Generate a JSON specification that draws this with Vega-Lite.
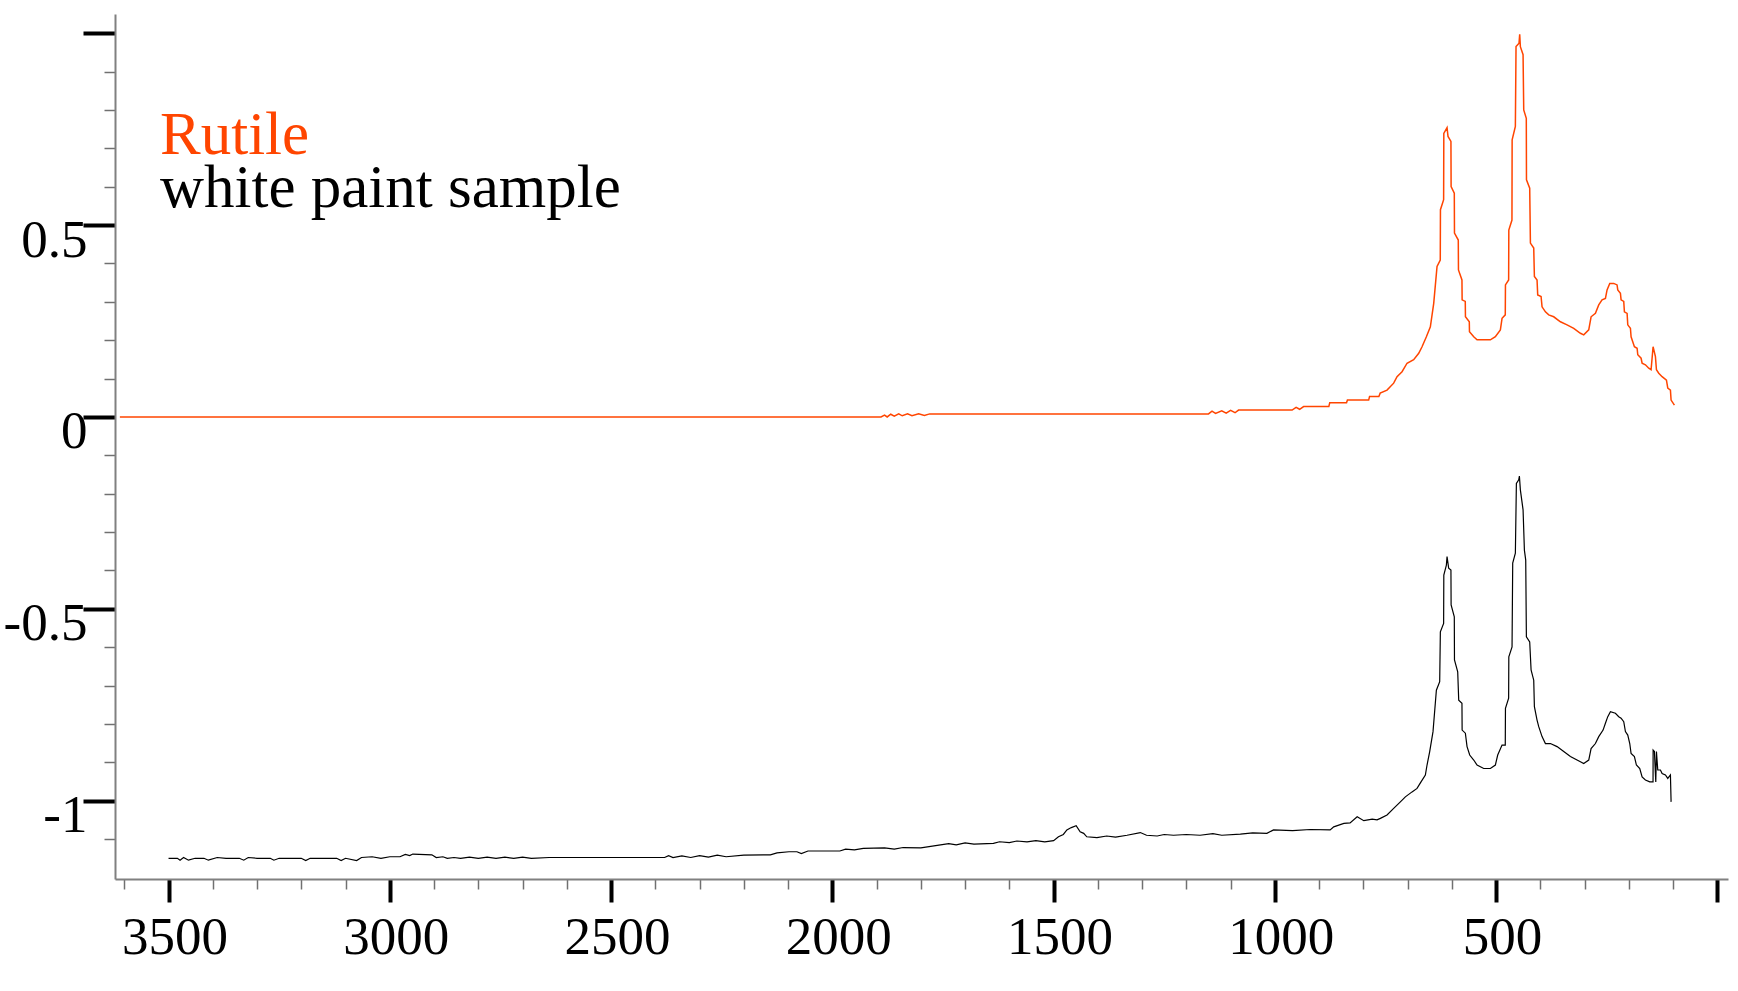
{
  "$schema": "https://vega.github.io/schema/vega-lite/v6.json",
  "width": 1613,
  "height": 865,
  "autosize": "none",
  "padding": {"left": 115, "top": 14, "right": 10, "bottom": 112},
  "background": "white",
  "config": {
    "font": "Liberation Serif",
    "view": {"stroke": null},
    "axis": {"grid": false, "title": null, "labelColor": "black", "labelFont": "Liberation Serif", "labelOverlap": false, "labelFlush": false, "labelBound": false}
  },
  "datasets": {
    "spectra": [
      {"series": "Rutile", "wn": 3610, "val": 0},
      {"series": "Rutile", "wn": 1890, "val": 0},
      {"series": "Rutile", "wn": 1882, "val": 0.005},
      {"series": "Rutile", "wn": 1876, "val": 0.0},
      {"series": "Rutile", "wn": 1868, "val": 0.007},
      {"series": "Rutile", "wn": 1860, "val": 0.002},
      {"series": "Rutile", "wn": 1850, "val": 0.008},
      {"series": "Rutile", "wn": 1842, "val": 0.003},
      {"series": "Rutile", "wn": 1830, "val": 0.008},
      {"series": "Rutile", "wn": 1820, "val": 0.003},
      {"series": "Rutile", "wn": 1805, "val": 0.008},
      {"series": "Rutile", "wn": 1792, "val": 0.004},
      {"series": "Rutile", "wn": 1780, "val": 0.008},
      {"series": "Rutile", "wn": 1150, "val": 0.008},
      {"series": "Rutile", "wn": 1142, "val": 0.015},
      {"series": "Rutile", "wn": 1134, "val": 0.009},
      {"series": "Rutile", "wn": 1120, "val": 0.016},
      {"series": "Rutile", "wn": 1110, "val": 0.010},
      {"series": "Rutile", "wn": 1100, "val": 0.017},
      {"series": "Rutile", "wn": 1090, "val": 0.011},
      {"series": "Rutile", "wn": 1082, "val": 0.018},
      {"series": "Rutile", "wn": 961, "val": 0.018},
      {"series": "Rutile", "wn": 952, "val": 0.025},
      {"series": "Rutile", "wn": 944, "val": 0.020},
      {"series": "Rutile", "wn": 935, "val": 0.027},
      {"series": "Rutile", "wn": 878, "val": 0.027},
      {"series": "Rutile", "wn": 876, "val": 0.037},
      {"series": "Rutile", "wn": 838, "val": 0.037},
      {"series": "Rutile", "wn": 836, "val": 0.044},
      {"series": "Rutile", "wn": 788, "val": 0.044},
      {"series": "Rutile", "wn": 786, "val": 0.053},
      {"series": "Rutile", "wn": 765, "val": 0.053},
      {"series": "Rutile", "wn": 762, "val": 0.062},
      {"series": "Rutile", "wn": 746.5, "val": 0.070},
      {"series": "Rutile", "wn": 731.5, "val": 0.088},
      {"series": "Rutile", "wn": 723.9, "val": 0.105},
      {"series": "Rutile", "wn": 712.6, "val": 0.118},
      {"series": "Rutile", "wn": 701.3, "val": 0.140},
      {"series": "Rutile", "wn": 686.3, "val": 0.149},
      {"series": "Rutile", "wn": 674.9, "val": 0.166},
      {"series": "Rutile", "wn": 667.4, "val": 0.183},
      {"series": "Rutile", "wn": 657.6, "val": 0.209},
      {"series": "Rutile", "wn": 648.6, "val": 0.235},
      {"series": "Rutile", "wn": 641.0, "val": 0.296},
      {"series": "Rutile", "wn": 633.5, "val": 0.392},
      {"series": "Rutile", "wn": 626.2, "val": 0.409},
      {"series": "Rutile", "wn": 625.8, "val": 0.540},
      {"series": "Rutile", "wn": 618.6, "val": 0.566},
      {"series": "Rutile", "wn": 618.2, "val": 0.739},
      {"series": "Rutile", "wn": 610.9, "val": 0.754},
      {"series": "Rutile", "wn": 608.7, "val": 0.731},
      {"series": "Rutile", "wn": 602.1, "val": 0.718},
      {"series": "Rutile", "wn": 601.7, "val": 0.600},
      {"series": "Rutile", "wn": 594.5, "val": 0.583},
      {"series": "Rutile", "wn": 594.1, "val": 0.479},
      {"series": "Rutile", "wn": 585.5, "val": 0.461},
      {"series": "Rutile", "wn": 585.1, "val": 0.383},
      {"series": "Rutile", "wn": 577.2, "val": 0.357},
      {"series": "Rutile", "wn": 576.8, "val": 0.305},
      {"series": "Rutile", "wn": 569.7, "val": 0.301},
      {"series": "Rutile", "wn": 569.3, "val": 0.261},
      {"series": "Rutile", "wn": 560.6, "val": 0.248},
      {"series": "Rutile", "wn": 560.2, "val": 0.222},
      {"series": "Rutile", "wn": 550.6, "val": 0.209},
      {"series": "Rutile", "wn": 543.1, "val": 0.201},
      {"series": "Rutile", "wn": 513.0, "val": 0.201},
      {"series": "Rutile", "wn": 501.7, "val": 0.209},
      {"series": "Rutile", "wn": 490.4, "val": 0.227},
      {"series": "Rutile", "wn": 486.6, "val": 0.257},
      {"series": "Rutile", "wn": 479.3, "val": 0.266},
      {"series": "Rutile", "wn": 478.9, "val": 0.344},
      {"series": "Rutile", "wn": 471.7, "val": 0.357},
      {"series": "Rutile", "wn": 471.3, "val": 0.487},
      {"series": "Rutile", "wn": 464.2, "val": 0.513},
      {"series": "Rutile", "wn": 463.8, "val": 0.722},
      {"series": "Rutile", "wn": 456.5, "val": 0.757},
      {"series": "Rutile", "wn": 455.0, "val": 0.965},
      {"series": "Rutile", "wn": 448.2, "val": 0.974},
      {"series": "Rutile", "wn": 446.7, "val": 0.997},
      {"series": "Rutile", "wn": 445.2, "val": 0.965},
      {"series": "Rutile", "wn": 439.1, "val": 0.944},
      {"series": "Rutile", "wn": 437.6, "val": 0.800},
      {"series": "Rutile", "wn": 431.8, "val": 0.778},
      {"series": "Rutile", "wn": 431.4, "val": 0.618},
      {"series": "Rutile", "wn": 424.1, "val": 0.596},
      {"series": "Rutile", "wn": 422.5, "val": 0.453},
      {"series": "Rutile", "wn": 415.0, "val": 0.440},
      {"series": "Rutile", "wn": 413.5, "val": 0.366},
      {"series": "Rutile", "wn": 407.5, "val": 0.357},
      {"series": "Rutile", "wn": 406.0, "val": 0.318},
      {"series": "Rutile", "wn": 398.4, "val": 0.314},
      {"series": "Rutile", "wn": 396.2, "val": 0.287},
      {"series": "Rutile", "wn": 388.6, "val": 0.274},
      {"series": "Rutile", "wn": 381.1, "val": 0.266},
      {"series": "Rutile", "wn": 369.8, "val": 0.261},
      {"series": "Rutile", "wn": 354.7, "val": 0.248},
      {"series": "Rutile", "wn": 339.7, "val": 0.240},
      {"series": "Rutile", "wn": 324.6, "val": 0.231},
      {"series": "Rutile", "wn": 309.5, "val": 0.218},
      {"series": "Rutile", "wn": 302.0, "val": 0.214},
      {"series": "Rutile", "wn": 290.7, "val": 0.227},
      {"series": "Rutile", "wn": 285.4, "val": 0.261},
      {"series": "Rutile", "wn": 275.6, "val": 0.270},
      {"series": "Rutile", "wn": 268.1, "val": 0.292},
      {"series": "Rutile", "wn": 260.6, "val": 0.305},
      {"series": "Rutile", "wn": 253.0, "val": 0.309},
      {"series": "Rutile", "wn": 249.3, "val": 0.331},
      {"series": "Rutile", "wn": 243.2, "val": 0.348},
      {"series": "Rutile", "wn": 234.2, "val": 0.348},
      {"series": "Rutile", "wn": 226.7, "val": 0.344},
      {"series": "Rutile", "wn": 225.1, "val": 0.331},
      {"series": "Rutile", "wn": 219.1, "val": 0.322},
      {"series": "Rutile", "wn": 217.6, "val": 0.305},
      {"series": "Rutile", "wn": 211.6, "val": 0.301},
      {"series": "Rutile", "wn": 210.1, "val": 0.274},
      {"series": "Rutile", "wn": 204.0, "val": 0.270},
      {"series": "Rutile", "wn": 202.5, "val": 0.240},
      {"series": "Rutile", "wn": 196.5, "val": 0.231},
      {"series": "Rutile", "wn": 195.0, "val": 0.209},
      {"series": "Rutile", "wn": 187.5, "val": 0.183},
      {"series": "Rutile", "wn": 181.4, "val": 0.179},
      {"series": "Rutile", "wn": 179.9, "val": 0.162},
      {"series": "Rutile", "wn": 172.4, "val": 0.153},
      {"series": "Rutile", "wn": 170.1, "val": 0.140},
      {"series": "Rutile", "wn": 162.6, "val": 0.136},
      {"series": "Rutile", "wn": 155.1, "val": 0.127},
      {"series": "Rutile", "wn": 149.8, "val": 0.123},
      {"series": "Rutile", "wn": 145.3, "val": 0.183},
      {"series": "Rutile", "wn": 140.0, "val": 0.157},
      {"series": "Rutile", "wn": 137.7, "val": 0.123},
      {"series": "Rutile", "wn": 132.5, "val": 0.114},
      {"series": "Rutile", "wn": 124.9, "val": 0.105},
      {"series": "Rutile", "wn": 115.1, "val": 0.096},
      {"series": "Rutile", "wn": 112.1, "val": 0.075},
      {"series": "Rutile", "wn": 106.1, "val": 0.070},
      {"series": "Rutile", "wn": 104.6, "val": 0.044},
      {"series": "Rutile", "wn": 97.1, "val": 0.031},
      {"series": "white paint sample", "wn": 3500, "val": -1.150},
      {"series": "white paint sample", "wn": 3480, "val": -1.150},
      {"series": "white paint sample", "wn": 3474, "val": -1.155},
      {"series": "white paint sample", "wn": 3466, "val": -1.148},
      {"series": "white paint sample", "wn": 3455, "val": -1.155},
      {"series": "white paint sample", "wn": 3440, "val": -1.150},
      {"series": "white paint sample", "wn": 3420, "val": -1.150},
      {"series": "white paint sample", "wn": 3410, "val": -1.155},
      {"series": "white paint sample", "wn": 3390, "val": -1.148},
      {"series": "white paint sample", "wn": 3370, "val": -1.150},
      {"series": "white paint sample", "wn": 3340, "val": -1.150},
      {"series": "white paint sample", "wn": 3330, "val": -1.155},
      {"series": "white paint sample", "wn": 3320, "val": -1.148},
      {"series": "white paint sample", "wn": 3300, "val": -1.150},
      {"series": "white paint sample", "wn": 3270, "val": -1.150},
      {"series": "white paint sample", "wn": 3262, "val": -1.155},
      {"series": "white paint sample", "wn": 3250, "val": -1.150},
      {"series": "white paint sample", "wn": 3200, "val": -1.150},
      {"series": "white paint sample", "wn": 3190, "val": -1.156},
      {"series": "white paint sample", "wn": 3180, "val": -1.150},
      {"series": "white paint sample", "wn": 3120, "val": -1.150},
      {"series": "white paint sample", "wn": 3110, "val": -1.156},
      {"series": "white paint sample", "wn": 3100, "val": -1.150},
      {"series": "white paint sample", "wn": 3075, "val": -1.156},
      {"series": "white paint sample", "wn": 3064, "val": -1.148},
      {"series": "white paint sample", "wn": 3040, "val": -1.146},
      {"series": "white paint sample", "wn": 3020, "val": -1.150},
      {"series": "white paint sample", "wn": 3000, "val": -1.146},
      {"series": "white paint sample", "wn": 2977, "val": -1.146},
      {"series": "white paint sample", "wn": 2965, "val": -1.140},
      {"series": "white paint sample", "wn": 2955, "val": -1.143},
      {"series": "white paint sample", "wn": 2948, "val": -1.139},
      {"series": "white paint sample", "wn": 2905, "val": -1.141},
      {"series": "white paint sample", "wn": 2895, "val": -1.148},
      {"series": "white paint sample", "wn": 2880, "val": -1.146},
      {"series": "white paint sample", "wn": 2870, "val": -1.150},
      {"series": "white paint sample", "wn": 2855, "val": -1.148},
      {"series": "white paint sample", "wn": 2840, "val": -1.150},
      {"series": "white paint sample", "wn": 2820, "val": -1.147},
      {"series": "white paint sample", "wn": 2800, "val": -1.150},
      {"series": "white paint sample", "wn": 2780, "val": -1.147},
      {"series": "white paint sample", "wn": 2760, "val": -1.150},
      {"series": "white paint sample", "wn": 2740, "val": -1.147},
      {"series": "white paint sample", "wn": 2720, "val": -1.150},
      {"series": "white paint sample", "wn": 2700, "val": -1.147},
      {"series": "white paint sample", "wn": 2680, "val": -1.150},
      {"series": "white paint sample", "wn": 2640, "val": -1.148},
      {"series": "white paint sample", "wn": 2581, "val": -1.148},
      {"series": "white paint sample", "wn": 2379, "val": -1.148},
      {"series": "white paint sample", "wn": 2370, "val": -1.143},
      {"series": "white paint sample", "wn": 2360, "val": -1.148},
      {"series": "white paint sample", "wn": 2340, "val": -1.144},
      {"series": "white paint sample", "wn": 2320, "val": -1.148},
      {"series": "white paint sample", "wn": 2300, "val": -1.143},
      {"series": "white paint sample", "wn": 2280, "val": -1.147},
      {"series": "white paint sample", "wn": 2260, "val": -1.142},
      {"series": "white paint sample", "wn": 2240, "val": -1.146},
      {"series": "white paint sample", "wn": 2200, "val": -1.142},
      {"series": "white paint sample", "wn": 2156, "val": -1.141},
      {"series": "white paint sample", "wn": 2140, "val": -1.141},
      {"series": "white paint sample", "wn": 2125, "val": -1.136},
      {"series": "white paint sample", "wn": 2098, "val": -1.133},
      {"series": "white paint sample", "wn": 2080, "val": -1.133},
      {"series": "white paint sample", "wn": 2070, "val": -1.138},
      {"series": "white paint sample", "wn": 2055, "val": -1.131},
      {"series": "white paint sample", "wn": 1983, "val": -1.131},
      {"series": "white paint sample", "wn": 1970, "val": -1.126},
      {"series": "white paint sample", "wn": 1950, "val": -1.128},
      {"series": "white paint sample", "wn": 1930, "val": -1.124},
      {"series": "white paint sample", "wn": 1882, "val": -1.123},
      {"series": "white paint sample", "wn": 1860, "val": -1.126},
      {"series": "white paint sample", "wn": 1840, "val": -1.122},
      {"series": "white paint sample", "wn": 1800, "val": -1.123},
      {"series": "white paint sample", "wn": 1737, "val": -1.112},
      {"series": "white paint sample", "wn": 1720, "val": -1.115},
      {"series": "white paint sample", "wn": 1700, "val": -1.110},
      {"series": "white paint sample", "wn": 1680, "val": -1.113},
      {"series": "white paint sample", "wn": 1636, "val": -1.111},
      {"series": "white paint sample", "wn": 1622, "val": -1.107},
      {"series": "white paint sample", "wn": 1600, "val": -1.109},
      {"series": "white paint sample", "wn": 1583, "val": -1.105},
      {"series": "white paint sample", "wn": 1560, "val": -1.107},
      {"series": "white paint sample", "wn": 1540, "val": -1.104},
      {"series": "white paint sample", "wn": 1520, "val": -1.107},
      {"series": "white paint sample", "wn": 1500, "val": -1.104},
      {"series": "white paint sample", "wn": 1489, "val": -1.094},
      {"series": "white paint sample", "wn": 1478, "val": -1.088},
      {"series": "white paint sample", "wn": 1470, "val": -1.076},
      {"series": "white paint sample", "wn": 1460, "val": -1.070},
      {"series": "white paint sample", "wn": 1449, "val": -1.065},
      {"series": "white paint sample", "wn": 1440, "val": -1.081},
      {"series": "white paint sample", "wn": 1432, "val": -1.085},
      {"series": "white paint sample", "wn": 1425, "val": -1.094},
      {"series": "white paint sample", "wn": 1402, "val": -1.096},
      {"series": "white paint sample", "wn": 1380, "val": -1.092},
      {"series": "white paint sample", "wn": 1360, "val": -1.095},
      {"series": "white paint sample", "wn": 1334, "val": -1.090},
      {"series": "white paint sample", "wn": 1304, "val": -1.083},
      {"series": "white paint sample", "wn": 1290, "val": -1.090},
      {"series": "white paint sample", "wn": 1266, "val": -1.092},
      {"series": "white paint sample", "wn": 1250, "val": -1.088},
      {"series": "white paint sample", "wn": 1229, "val": -1.090},
      {"series": "white paint sample", "wn": 1200, "val": -1.088},
      {"series": "white paint sample", "wn": 1169, "val": -1.090},
      {"series": "white paint sample", "wn": 1140, "val": -1.086},
      {"series": "white paint sample", "wn": 1120, "val": -1.090},
      {"series": "white paint sample", "wn": 1078, "val": -1.087},
      {"series": "white paint sample", "wn": 1050, "val": -1.084},
      {"series": "white paint sample", "wn": 1018, "val": -1.085},
      {"series": "white paint sample", "wn": 1003, "val": -1.076},
      {"series": "white paint sample", "wn": 960, "val": -1.078},
      {"series": "white paint sample", "wn": 920, "val": -1.075},
      {"series": "white paint sample", "wn": 875, "val": -1.076},
      {"series": "white paint sample", "wn": 867, "val": -1.068},
      {"series": "white paint sample", "wn": 844, "val": -1.059},
      {"series": "white paint sample", "wn": 830, "val": -1.058},
      {"series": "white paint sample", "wn": 814, "val": -1.042},
      {"series": "white paint sample", "wn": 799, "val": -1.052},
      {"series": "white paint sample", "wn": 780, "val": -1.048},
      {"series": "white paint sample", "wn": 769, "val": -1.050},
      {"series": "white paint sample", "wn": 761.6, "val": -1.046},
      {"series": "white paint sample", "wn": 746.5, "val": -1.037},
      {"series": "white paint sample", "wn": 731.5, "val": -1.020},
      {"series": "white paint sample", "wn": 716.4, "val": -1.003},
      {"series": "white paint sample", "wn": 705.1, "val": -0.990},
      {"series": "white paint sample", "wn": 690.0, "val": -0.977},
      {"series": "white paint sample", "wn": 678.7, "val": -0.968},
      {"series": "white paint sample", "wn": 669.7, "val": -0.951},
      {"series": "white paint sample", "wn": 659.9, "val": -0.933},
      {"series": "white paint sample", "wn": 656.1, "val": -0.907},
      {"series": "white paint sample", "wn": 650.1, "val": -0.872},
      {"series": "white paint sample", "wn": 642.6, "val": -0.820},
      {"series": "white paint sample", "wn": 635.0, "val": -0.712},
      {"series": "white paint sample", "wn": 627.5, "val": -0.690},
      {"series": "white paint sample", "wn": 626.0, "val": -0.560},
      {"series": "white paint sample", "wn": 618.6, "val": -0.538},
      {"series": "white paint sample", "wn": 618.2, "val": -0.412},
      {"series": "white paint sample", "wn": 612.4, "val": -0.386},
      {"series": "white paint sample", "wn": 610.9, "val": -0.364},
      {"series": "white paint sample", "wn": 607.2, "val": -0.394},
      {"series": "white paint sample", "wn": 602.1, "val": -0.399},
      {"series": "white paint sample", "wn": 601.7, "val": -0.490},
      {"series": "white paint sample", "wn": 594.5, "val": -0.521},
      {"series": "white paint sample", "wn": 594.1, "val": -0.633},
      {"series": "white paint sample", "wn": 586.8, "val": -0.664},
      {"series": "white paint sample", "wn": 584.5, "val": -0.738},
      {"series": "white paint sample", "wn": 577.2, "val": -0.746},
      {"series": "white paint sample", "wn": 576.8, "val": -0.816},
      {"series": "white paint sample", "wn": 569.5, "val": -0.824},
      {"series": "white paint sample", "wn": 565.7, "val": -0.859},
      {"series": "white paint sample", "wn": 559.7, "val": -0.881},
      {"series": "white paint sample", "wn": 550.6, "val": -0.894},
      {"series": "white paint sample", "wn": 543.1, "val": -0.907},
      {"series": "white paint sample", "wn": 528.0, "val": -0.916},
      {"series": "white paint sample", "wn": 513.0, "val": -0.916},
      {"series": "white paint sample", "wn": 501.7, "val": -0.907},
      {"series": "white paint sample", "wn": 496.4, "val": -0.881},
      {"series": "white paint sample", "wn": 486.6, "val": -0.855},
      {"series": "white paint sample", "wn": 479.3, "val": -0.855},
      {"series": "white paint sample", "wn": 478.9, "val": -0.759},
      {"series": "white paint sample", "wn": 471.7, "val": -0.733},
      {"series": "white paint sample", "wn": 471.3, "val": -0.625},
      {"series": "white paint sample", "wn": 464.0, "val": -0.599},
      {"series": "white paint sample", "wn": 462.5, "val": -0.381},
      {"series": "white paint sample", "wn": 456.5, "val": -0.355},
      {"series": "white paint sample", "wn": 454.2, "val": -0.173},
      {"series": "white paint sample", "wn": 448.9, "val": -0.164},
      {"series": "white paint sample", "wn": 447.4, "val": -0.154},
      {"series": "white paint sample", "wn": 445.2, "val": -0.190},
      {"series": "white paint sample", "wn": 439.1, "val": -0.242},
      {"series": "white paint sample", "wn": 436.1, "val": -0.347},
      {"series": "white paint sample", "wn": 433.1, "val": -0.373},
      {"series": "white paint sample", "wn": 431.6, "val": -0.573},
      {"series": "white paint sample", "wn": 424.1, "val": -0.586},
      {"series": "white paint sample", "wn": 421.0, "val": -0.659},
      {"series": "white paint sample", "wn": 415.0, "val": -0.686},
      {"series": "white paint sample", "wn": 413.5, "val": -0.755},
      {"series": "white paint sample", "wn": 407.5, "val": -0.790},
      {"series": "white paint sample", "wn": 403.7, "val": -0.807},
      {"series": "white paint sample", "wn": 396.2, "val": -0.833},
      {"series": "white paint sample", "wn": 388.6, "val": -0.851},
      {"series": "white paint sample", "wn": 377.3, "val": -0.851},
      {"series": "white paint sample", "wn": 362.3, "val": -0.859},
      {"series": "white paint sample", "wn": 347.2, "val": -0.872},
      {"series": "white paint sample", "wn": 332.1, "val": -0.885},
      {"series": "white paint sample", "wn": 317.1, "val": -0.894},
      {"series": "white paint sample", "wn": 302.0, "val": -0.903},
      {"series": "white paint sample", "wn": 290.7, "val": -0.894},
      {"series": "white paint sample", "wn": 285.4, "val": -0.864},
      {"series": "white paint sample", "wn": 275.6, "val": -0.851},
      {"series": "white paint sample", "wn": 268.1, "val": -0.833},
      {"series": "white paint sample", "wn": 258.3, "val": -0.816},
      {"series": "white paint sample", "wn": 253.0, "val": -0.798},
      {"series": "white paint sample", "wn": 247.7, "val": -0.781},
      {"series": "white paint sample", "wn": 241.7, "val": -0.768},
      {"series": "white paint sample", "wn": 230.4, "val": -0.772},
      {"series": "white paint sample", "wn": 222.9, "val": -0.781},
      {"series": "white paint sample", "wn": 217.6, "val": -0.785},
      {"series": "white paint sample", "wn": 211.6, "val": -0.794},
      {"series": "white paint sample", "wn": 207.8, "val": -0.820},
      {"series": "white paint sample", "wn": 202.5, "val": -0.829},
      {"series": "white paint sample", "wn": 198.0, "val": -0.851},
      {"series": "white paint sample", "wn": 195.0, "val": -0.877},
      {"series": "white paint sample", "wn": 187.5, "val": -0.885},
      {"series": "white paint sample", "wn": 183.0, "val": -0.907},
      {"series": "white paint sample", "wn": 175.4, "val": -0.916},
      {"series": "white paint sample", "wn": 170.1, "val": -0.938},
      {"series": "white paint sample", "wn": 162.6, "val": -0.946},
      {"series": "white paint sample", "wn": 152.8, "val": -0.951},
      {"series": "white paint sample", "wn": 145.4, "val": -0.951},
      {"series": "white paint sample", "wn": 145.2, "val": -0.868},
      {"series": "white paint sample", "wn": 142.3, "val": -0.872},
      {"series": "white paint sample", "wn": 139.2, "val": -0.951},
      {"series": "white paint sample", "wn": 137.7, "val": -0.872},
      {"series": "white paint sample", "wn": 134.7, "val": -0.920},
      {"series": "white paint sample", "wn": 128.7, "val": -0.920},
      {"series": "white paint sample", "wn": 124.9, "val": -0.929},
      {"series": "white paint sample", "wn": 117.4, "val": -0.933},
      {"series": "white paint sample", "wn": 112.1, "val": -0.942},
      {"series": "white paint sample", "wn": 106.1, "val": -0.933},
      {"series": "white paint sample", "wn": 104.6, "val": -1.003}
    ]
  },
  "data": {"name": "spectra"},
  "layer": [
    {
      "mark": {"type": "line", "opacity": 0},
      "encoding": {
        "x": {"field": "wn", "type": "quantitative",
          "scale": {"domain": [-24, 3621], "reverse": true, "nice": false, "zero": false},
          "axis": {"orient": "bottom", "values": [100, 200, 300, 400, 600, 700, 800, 900, 1100, 1200, 1300, 1400, 1600, 1700, 1800, 1900, 2100, 2200, 2300, 2400, 2600, 2700, 2800, 2900, 3100, 3200, 3300, 3400, 3600], "labels": false, "domain": false, "tickSize": 10, "tickWidth": 1.5, "tickColor": "#707070"}},
        "y": {"field": "val", "type": "quantitative",
          "scale": {"domain": [-1.204, 1.05], "nice": false, "zero": false},
          "axis": {"orient": "left", "values": [-1.1, -0.9, -0.8, -0.7, -0.6, -0.4, -0.3, -0.2, -0.1, 0.1, 0.2, 0.3, 0.4, 0.6, 0.7, 0.8, 0.9], "labels": false, "domain": false, "tickSize": 11, "tickWidth": 1.5, "tickColor": "#707070"}},
        "color": {"field": "series", "type": "nominal",
          "scale": {"domain": ["Rutile", "white paint sample"], "range": ["#FF4500", "#000000"]},
          "legend": {"title": null, "values": ["Rutile"], "orient": "none", "legendX": -16, "legendY": 91, "padding": 0, "symbolSize": 0, "symbolOpacity": 0, "symbolStrokeWidth": 0, "labelOffset": 0, "labelFont": "Liberation Serif", "labelFontSize": 61, "labelLimit": 1000, "labelColor": "#FF4500"}},
        "strokeWidth": {"field": "series", "type": "nominal",
          "scale": {"domain": ["white paint sample", "Rutile"], "range": [1.2, 1.5]},
          "legend": {"title": null, "values": ["white paint sample"], "orient": "none", "legendX": -16, "legendY": 144, "padding": 0, "symbolSize": 0, "symbolOpacity": 0, "symbolStrokeWidth": 0, "labelOffset": 0, "labelFont": "Liberation Serif", "labelFontSize": 61, "labelLimit": 1000, "labelColor": "#000000"}},
        "detail": {"field": "series"}
      }
    },
    {
      "mark": {"type": "line"},
      "encoding": {
        "x": {"field": "wn", "type": "quantitative",
          "axis": {"orient": "bottom", "values": [0, 500, 1000, 1500, 2000, 2500, 3000, 3500], "labelExpr": "datum.value == 0 ? '' : format(datum.value, 'd')", "tickSize": 23, "tickWidth": 4, "tickColor": "#000000", "domainColor": "#808080", "domainWidth": 2, "labelFontSize": 53, "labelPadding": 51, "labelBaseline": "alphabetic", "labelOffset": 6}},
        "y": {"field": "val", "type": "quantitative",
          "axis": {"orient": "left", "values": [-1, -0.5, 0, 0.5, 1], "labelExpr": "datum.value == 1 ? '' : replace(format(datum.value, '~g'), '\u2212', '-')", "tickSize": 32, "tickWidth": 4, "tickColor": "#000000", "domainColor": "#808080", "domainWidth": 2, "labelFontSize": 53, "labelPadding": -4, "labelBaseline": "alphabetic", "labelOffset": 31}},
        "color": {"field": "series", "type": "nominal"},
        "strokeWidth": {"field": "series", "type": "nominal"},
        "detail": {"field": "series"}
      }
    }
  ],
  "resolve": {"axis": {"x": "independent", "y": "independent"}}
}
